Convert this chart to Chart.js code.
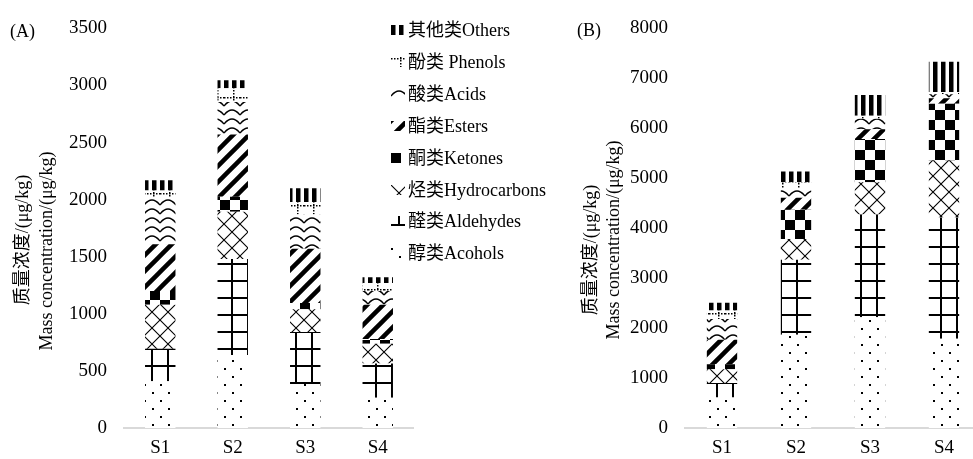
<!DOCTYPE html>
<html>
<head>
<meta charset="utf-8">
<script src="https://cdn.jsdelivr.net/npm/chart.js@4.4.1/dist/chart.umd.min.js"></script>
<style>
  html, body { margin: 0; padding: 0; background: #fff; width: 973px; height: 459px; overflow: hidden; }
  #wrap { position: relative; width: 973px; height: 459px; overflow: hidden; font-family: "Liberation Serif", "Noto Sans CJK SC", serif; color: #000; }
  canvas.chart { position: absolute; top: 0; }
  .panel { position: absolute; font-size: 18px; line-height: 18px; }
  .ytitle { position: absolute; width: 320px; height: 24px; line-height: 24px; text-align: center; white-space: nowrap; transform: rotate(-90deg); font-size: 18px; }
  .lg { position: absolute; left: 391px; height: 20px; line-height: 20px; font-size: 18px; white-space: nowrap; }
  .lg canvas { position: absolute; left: 0; top: 5px; }
  .lg span { position: absolute; left: 17px; top: 0; }
</style>
</head>
<body>
<div id="wrap">
  <canvas id="chartA" class="chart" width="414" height="459" style="left:0px"></canvas>
  <canvas id="chartB" class="chart" width="416" height="459" style="left:565px"></canvas>
  <div class="panel" style="left:10px;top:22px">(A)</div>
  <div class="panel" style="left:577px;top:21px">(B)</div>
  <div id="titles"></div>
  <div id="legend"></div>
</div>
<script>
// ---- data ----
const categories = ['S1', 'S2', 'S3', 'S4'];
const seriesNames = ['醇类Acohols', '醛类Aldehydes', '烃类Hydrocarbons', '酮类Ketones',
                     '酯类Esters', '酸类Acids', '酚类 Phenols', '其他类Others'];
const yTitleCn = '质量浓度/(μg/kg)';
const yTitleEn = 'Mass concentration/(μg/kg)';

// panel A (μg/kg)
const alcoholsA     = [410, 640, 385, 266];
const aldehydesA    = [285, 840, 455, 300];
const hydrocarbonsA = [385, 415, 200, 171];
const ketonesA      = [120, 130, 55, 43];
const estersA       = [410, 545, 475, 300];
const acidsA        = [410, 285, 300, 120];
const phenolsA      = [60, 120, 110, 70];
const othersA       = [90, 70, 120, 50];

// panel B (μg/kg)
const alcoholsB     = [610, 1865, 2215, 1785];
const aldehydesB    = [290, 1505, 2060, 2430];
const hydrocarbonsB = [275, 415, 645, 1140];
const ketonesB      = [100, 585, 865, 1135];
const estersB       = [490, 240, 195, 110];
const acidsB        = [415, 190, 210, 80];
const phenolsB      = [170, 120, 60, 45];
const othersB       = [160, 217, 417, 608];

// ---- black & white fill textures ----
function tile(w, h, draw) {
  const c = document.createElement('canvas');
  c.width = w; c.height = h;
  const g = c.getContext('2d');
  g.fillStyle = '#fff'; g.fillRect(0, 0, w, h);
  g.fillStyle = '#000'; g.strokeStyle = '#000';
  draw(g, w, h);
  return c;
}
const tiles = [
  // alcohols: sparse dots
  tile(16, 16, g => { g.fillRect(0, 0, 2, 2); g.fillRect(8, 8, 2, 2); }),
  // aldehydes: large grid
  tile(16, 17, g => { g.fillRect(7, 0, 2, 17); g.fillRect(0, 8, 16, 2); }),
  // hydrocarbons: diagonal lattice
  tile(16, 16, g => {
    g.lineWidth = 1.1; g.beginPath();
    g.moveTo(-2, -2); g.lineTo(18, 18);
    g.moveTo(-2, 18); g.lineTo(18, -2);
    g.stroke();
  }),
  // ketones: checkerboard
  tile(20, 20, g => { g.fillRect(0, 0, 10, 10); g.fillRect(10, 10, 10, 10); }),
  // esters: wide upward diagonal
  tile(16, 16, g => {
    g.lineWidth = 4.5; g.beginPath();
    g.moveTo(-4, 20); g.lineTo(20, -4);
    g.moveTo(-4, 4); g.lineTo(4, -4);
    g.moveTo(12, 20); g.lineTo(20, 12);
    g.stroke();
  }),
  // acids: waves
  tile(16, 9, g => {
    g.lineWidth = 1.3; g.beginPath();
    g.moveTo(0, 7); g.quadraticCurveTo(8, -3, 16, 7);
    g.stroke();
  }),
  // phenols: dotted grid
  tile(16, 12, g => {
    for (let x = 0; x < 16; x += 3) g.fillRect(x, 1, 1.5, 1.5);
    for (let y = 0; y < 12; y += 3) g.fillRect(9, y, 1.5, 1.5);
  }),
  // others: wide vertical stripes
  tile(8, 8, g => { g.fillRect(0, 0, 4.5, 8); })
];
const patCtx = document.createElement('canvas').getContext('2d');
const patterns = tiles.map(t => patCtx.createPattern(t, 'repeat'));

const FONT = "'Liberation Serif', 'Noto Sans CJK SC', serif";

function makeChart(id, seriesValues, yMax, yStep, axisWidth, barPct) {
  const datasets = seriesValues.map((vals, i) => ({
    label: seriesNames[i],
    data: vals,
    backgroundColor: patterns[i],
    borderWidth: 0,
    categoryPercentage: 1,
    barPercentage: barPct
  }));
  return new Chart(document.getElementById(id), {
    type: 'bar',
    data: { labels: categories, datasets },
    options: {
      responsive: false,
      animation: false,
      layout: { padding: { top: 20, left: 0, right: 0, bottom: 0 } },
      plugins: { legend: { display: false }, tooltip: { enabled: false } },
      scales: {
        x: {
          stacked: true,
          grid: { display: false, drawTicks: false },
          border: { display: true, color: '#d9d9d9', width: 2 },
          ticks: { color: '#000', padding: 9, font: { family: FONT, size: 19 } },
          afterFit: s => { s.height = 31; }
        },
        y: {
          stacked: true,
          min: 0, max: yMax,
          grid: { display: false, drawTicks: false },
          border: { display: false },
          ticks: {
            stepSize: yStep, color: '#000', padding: 17,
            font: { family: FONT, size: 19 },
            callback: v => String(v)
          },
          afterFit: s => { s.width = axisWidth; }
        }
      }
    }
  });
}

makeChart('chartA',
  [alcoholsA, aldehydesA, hydrocarbonsA, ketonesA, estersA, acidsA, phenolsA, othersA],
  3500, 500, 124, 0.42);
makeChart('chartB',
  [alcoholsB, aldehydesB, hydrocarbonsB, ketonesB, estersB, acidsB, phenolsB, othersB],
  8000, 1000, 120, 0.41);

// ---- rotated axis titles ----
const titles = document.getElementById('titles');
function addTitle(text, cx, cy) {
  const d = document.createElement('div');
  d.className = 'ytitle';
  d.textContent = text;
  d.style.left = (cx - 160) + 'px';
  d.style.top = (cy - 12) + 'px';
  titles.appendChild(d);
}
addTitle(yTitleCn, 22, 240);
addTitle(yTitleEn, 46, 251);
addTitle(yTitleCn, 590, 250);
addTitle(yTitleEn, 613, 240);

// ---- legend (top entry = top of the stack) ----
const legend = document.getElementById('legend');
for (let i = seriesNames.length - 1, row = 0; i >= 0; i--, row++) {
  const item = document.createElement('div');
  item.className = 'lg';
  item.style.top = (20 + row * 31.9) + 'px';
  const m = document.createElement('canvas');
  m.width = 14; m.height = 10;
  const g = m.getContext('2d');
  g.fillStyle = patterns[i];
  g.fillRect(0, 0, 14, 10);
  const s = document.createElement('span');
  s.textContent = seriesNames[i];
  item.appendChild(m);
  item.appendChild(s);
  legend.appendChild(item);
}
</script>
</body>
</html>
